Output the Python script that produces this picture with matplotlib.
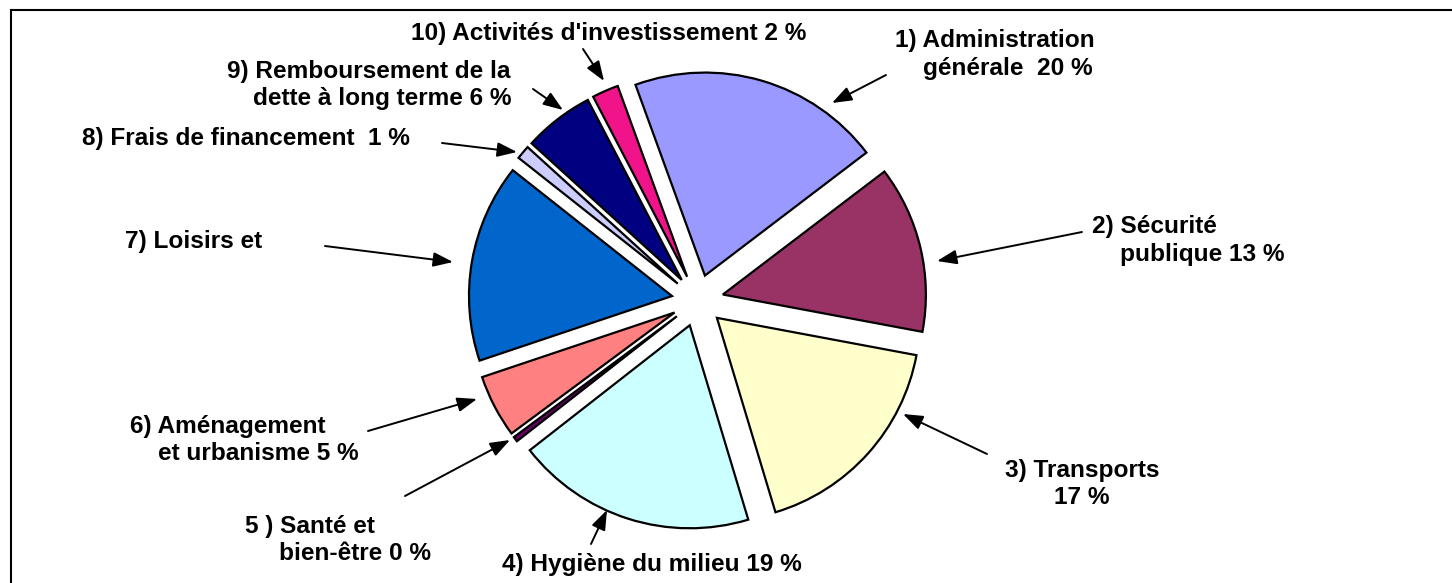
import matplotlib
matplotlib.use("Agg")
import matplotlib.pyplot as plt
from matplotlib.lines import Line2D

# ---------------- data ----------------
categories = [
    "1) Administration\ngénérale  20 %",
    "2) Sécurité\npublique 13 %",
    "3) Transports\n17 %",
    "4) Hygiène du milieu 19 %",
    "5 ) Santé et\nbien-être 0 %",
    "6) Aménagement\net urbanisme 5 %",
    "7) Loisirs et",
    "8) Frais de financement  1 %",
    "9) Remboursement de la\ndette à long terme 6 %",
    "10) Activités d'investissement 2 %",
]
shares = [20.2, 13.3, 17.4, 19.1, 0.4, 5.0, 15.8, 1.1, 5.6, 2.1]
colors = ["#9999FF", "#993366", "#FFFFCC", "#CCFFFF", "#660066",
          "#FF8080", "#0066CC", "#CCCCFF", "#000080", "#F0138A"]

# ---------------- layout (pixels) ----------------
W, H = 1452, 583
CX, CY, R = 697.6, 300.5, 203.0          # pie centre / radius in pixels

# label layout: (x of first line, x of following lines, baseline of first line, ha)
label_pos = [
    (895, 923, 47, "left"),
    (1092, 1120, 233, "left"),
    (1082, 1082, 477, "center"),
    (502, 502, 571, "left"),
    (245, 279, 533, "left"),
    (130, 158, 433, "left"),
    (125, 125, 248, "left"),
    (82, 82, 145, "left"),
    (227, 253, 78, "left"),
    (411, 411, 40, "left"),
]
LINE_STEP = 27.5
# arrows: (tail x, tail y, tip x, tip y)
arrow_pos = [
    (886, 75, 832, 103),
    (1082, 232, 937, 261),
    (987, 454, 903, 414),
    (591, 544, 607, 510),
    (405, 496, 510, 440),
    (368, 431, 477, 399),
    (325, 246, 453, 262),
    (442, 143, 517, 152),
    (533, 89, 563, 110),
    (583, 49, 604, 81),
]


def px(x, y):
    return ((x - CX) / R, (CY - y) / R)


fig = plt.figure(figsize=(W / 100, H / 100), dpi=100)
ax = fig.add_axes([0, 0, 1, 1])

ax.pie(shares, colors=colors, startangle=110, counterclock=False,
       explode=[0.128] * len(shares), radius=1.0,
       wedgeprops=dict(edgecolor="black", linewidth=1.6, joinstyle="miter"))

ax.set_xlim(-CX / R, (W - CX) / R)
ax.set_ylim(-(H - CY) / R, CY / R)
ax.set_aspect("auto")
ax.axis("off")

font = dict(family=["Liberation Sans", "DejaVu Sans"], weight="bold", size=17.6)

for text, (x0, x1, y0, ha) in zip(categories, label_pos):
    for i, line in enumerate(text.split("\n")):
        x = x0 if i == 0 else x1
        y = y0 + i * LINE_STEP
        ax.text(*px(x, y), line, ha=ha, va="baseline", color="black", **font)

for (tx, ty, hx, hy) in arrow_pos:
    ax.annotate("", xy=px(hx, hy), xytext=px(tx, ty),
                arrowprops=dict(arrowstyle="-|>,head_length=0.6,head_width=0.22",
                                mutation_scale=20, lw=1.4, color="black",
                                shrinkA=0, shrinkB=0))

# frame lines (top and left)
x_a, y_a = px(11, 10)
x_b, _ = px(W + 5, 10)
_, y_c = px(11, H + 5)
ax.add_line(Line2D([x_a, x_b], [y_a, y_a], color="black", lw=1.5, clip_on=False))
ax.add_line(Line2D([x_a, x_a], [y_a, y_c], color="black", lw=1.5, clip_on=False))

fig.savefig("out.png", dpi=100, facecolor="white")
